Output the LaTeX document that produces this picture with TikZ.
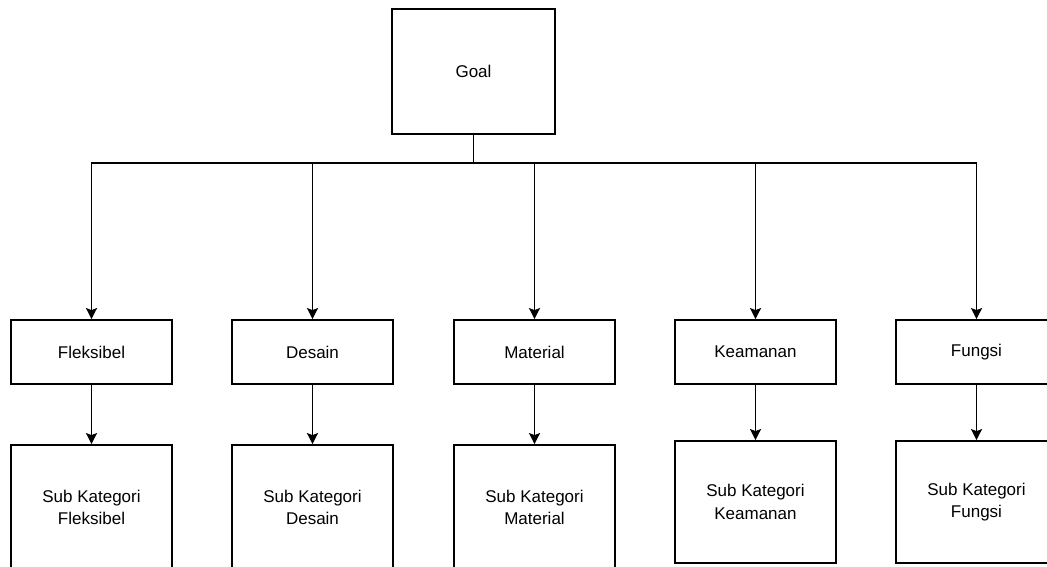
\documentclass[tikz,border=0pt]{standalone}
\usepackage{fontspec}
\setmainfont{Liberation Sans}
\usetikzlibrary{arrows.meta}

\begin{document}
\begin{tikzpicture}[x=1pt,y=-1pt,
  box/.style={rectangle,draw=black,line width=1.8pt,fill=white,align=center,
    font=\fontsize{17}{22.5}\selectfont,inner sep=0pt},
  crit/.style={box,minimum width=161pt,minimum height=64pt},
  subcrit/.style={box,minimum width=161pt,minimum height=125pt},
  link/.style={draw=black,line width=1.8pt},
  arrow/.style={link,-{Stealth[length=11pt,width=11pt,inset=2pt]}}]
\useasboundingbox (0,0) rectangle (1047,566);
\fill[white] (0,0) rectangle (1047,566);
\clip (0,0) rectangle (1047,566);

% goal
\node[box,minimum width=163pt,minimum height=125pt] (goal) at (473.5,71.5) {Goal};
\coordinate (bus) at (473.5,163);

% criteria
\node[crit] (fleksibel) at (91.5,352) {Fleksibel};
\node[crit] (desain) at (312.5,352) {Desain};
\node[crit] (material) at (534.5,352) {Material};
\node[crit] (keamanan) at (755.5,352) {Keamanan};
\node[crit] (fungsi) at (976.5,352) {Fungsi};

% sub criteria
\node[subcrit] (subfleksibel) at (91.5,507.5) {Sub Kategori\\Fleksibel};
\node[subcrit] (subdesain) at (312.5,507.5) {Sub Kategori\\Desain};
\node[subcrit] (submaterial) at (534.5,507.5) {Sub Kategori\\Material};
\node[subcrit,minimum height=122pt] (subkeamanan) at (755.5,502) {Sub Kategori\\Keamanan};
\node[subcrit,minimum height=122pt] (subfungsi) at (976.5,502) {Sub Kategori\\Fungsi};

\draw[link] (goal.south) -- (bus);
\foreach \n in {fleksibel,desain,material,keamanan,fungsi}{
  \draw[arrow] (bus) -| (\n.north);
  \draw[arrow] (\n.south) -- (sub\n.north);
}

\end{tikzpicture}
\end{document}
